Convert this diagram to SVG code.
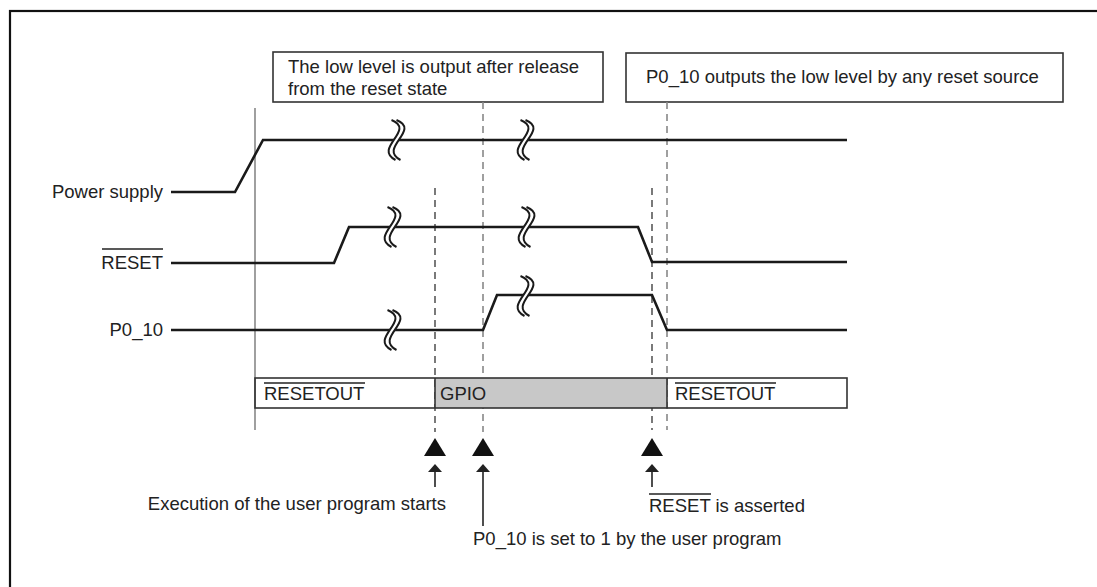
<svg xmlns="http://www.w3.org/2000/svg" xmlns:xlink="http://www.w3.org/1999/xlink" width="1097" height="587" viewBox="0 0 1097 587">
<style>
  text { font-family: "Liberation Sans", Arial, sans-serif; font-size: 18.5px; fill: #222; }
  .sig { fill: none; stroke: #1a1a1a; stroke-width: 2.6; stroke-linejoin: miter; }
  .box { fill: #fff; stroke: #333; stroke-width: 1.6; }
  .dashd { fill: none; stroke: #333; stroke-width: 1.3; stroke-dasharray: 7 5; }
  .dashg { fill: none; stroke: #888; stroke-width: 1.6; stroke-dasharray: 7 5; }
  .ov { stroke: #222; stroke-width: 1.4; }
  .arr { stroke: #222; stroke-width: 1.6; fill: none; }
</style>
<defs>
  <g id="brk">
    <path d="M-3,-20 C22,-10 -22,8 1,20" fill="none" stroke="#fff" stroke-width="5"/>
    <path d="M-5.5,-20 C19.5,-10 -24.5,8 -1.5,20" fill="none" stroke="#1a1a1a" stroke-width="2"/>
    <path d="M-0.5,-20 C24.5,-10 -19.5,8 3.5,20" fill="none" stroke="#1a1a1a" stroke-width="2"/>
  </g>
  <marker id="ah" viewBox="0 0 8 14" refX="0" refY="7" markerWidth="8" markerHeight="14" markerUnits="userSpaceOnUse" orient="auto">
    <path d="M0,0 L8,7 L0,14 Z" fill="#222"/>
  </marker>
</defs>

<rect x="10" y="11" width="1100" height="600" fill="#fff" stroke="#111" stroke-width="2.2"/>

<g id="note1">
  <rect class="box" x="273" y="52" width="330" height="50"/>
  <text x="288" y="73">The low level is output after release</text>
  <text x="288" y="95">from the reset state</text>
</g>
<g id="note2">
  <rect class="box" x="626" y="53" width="437" height="49"/>
  <text x="646" y="83">P0_10 outputs the low level by any reset source</text>
</g>

<g id="connectors">
  <line x1="255" y1="108" x2="255" y2="430" stroke="#777" stroke-width="1.4"/>
  <line class="dashd" x1="435" y1="188" x2="435" y2="432"/>
  <line class="dashg" x1="483" y1="102" x2="483" y2="432"/>
  <line class="dashd" x1="652" y1="188" x2="652" y2="430"/>
  <line class="dashg" x1="667" y1="102" x2="667" y2="430"/>
</g>

<g id="power">
  <text x="163" y="198" text-anchor="end">Power supply</text>
  <path class="sig" d="M171,192 H235 L263,140 H847"/>
  <use xlink:href="#brk" x="397" y="140"/>
  <use xlink:href="#brk" x="526" y="140"/>
</g>

<g id="reset">
  <text x="163" y="269" text-anchor="end">RESET</text>
  <line class="ov" x1="102" y1="249" x2="163" y2="249"/>
  <path class="sig" d="M171,263 H334 L349,227 H638 L652,262 H847"/>
  <use xlink:href="#brk" x="393" y="227"/>
  <use xlink:href="#brk" x="527" y="227"/>
</g>

<g id="p0_10">
  <text x="163" y="336" text-anchor="end">P0_10</text>
  <path class="sig" d="M171,330 H483 L497,295 H652 L667,330 H847"/>
  <use xlink:href="#brk" x="393" y="330"/>
  <use xlink:href="#brk" x="526" y="296"/>
</g>

<g id="bar">
  <rect x="435" y="378" width="232" height="30" fill="#c8c8c8"/>
  <rect x="255" y="378" width="592" height="30" fill="none" stroke="#333" stroke-width="1.6"/>
  <line x1="435" y1="378" x2="435" y2="408" stroke="#333" stroke-width="1.6"/>
  <line x1="667" y1="378" x2="667" y2="408" stroke="#333" stroke-width="1.6"/>
  <text x="264" y="400">RESETOUT</text>
  <line class="ov" x1="264" y1="383" x2="365" y2="383"/>
  <text x="440" y="400">GPIO</text>
  <text x="675" y="400">RESETOUT</text>
  <line class="ov" x1="675" y1="383" x2="776" y2="383"/>
</g>

<g id="event-start">
  <path d="M435,438 L446,456 L424,456 Z" fill="#111"/>
  <line class="arr" x1="435" y1="487" x2="435" y2="472" marker-end="url(#ah)"/>
  <text x="446" y="510" text-anchor="end">Execution of the user program starts</text>
</g>

<g id="event-set">
  <path d="M483,438 L494,456 L472,456 Z" fill="#111"/>
  <line class="arr" x1="483" y1="526" x2="483" y2="472" marker-end="url(#ah)"/>
  <text x="473" y="545">P0_10 is set to 1 by the user program</text>
</g>

<g id="event-reset">
  <path d="M652,438 L663,456 L641,456 Z" fill="#111"/>
  <line class="arr" x1="652" y1="487" x2="652" y2="472" marker-end="url(#ah)"/>
  <text x="649" y="512">RESET is asserted</text>
  <line class="ov" x1="649" y1="494" x2="711" y2="494"/>
</g>
</svg>
